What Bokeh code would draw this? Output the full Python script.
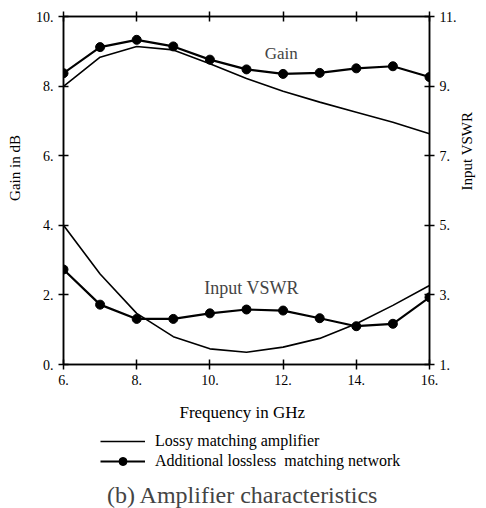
import math
from bokeh.plotting import figure
from bokeh.layouts import column
from bokeh.models import (Range1d, LinearAxis, FixedTicker, PrintfTickFormatter,
                          Label, Legend, LegendItem)
from bokeh.embed import file_html
from bokeh.resources import INLINE

# ---- data ----
freq = [6, 7, 8, 9, 10, 11, 12, 13, 14, 15, 16]
gain_lossy = [7.99, 8.83, 9.14, 9.04, 8.64, 8.22, 7.85, 7.54, 7.25, 6.96, 6.63]
gain_lossless = [8.37, 9.12, 9.33, 9.14, 8.76, 8.48, 8.35, 8.38, 8.51, 8.57, 8.26]
vswr_lossy = [5.0, 3.6, 2.47, 1.8, 1.45, 1.35, 1.5, 1.75, 2.17, 2.70, 3.27]
vswr_lossless = [3.73, 2.72, 2.31, 2.31, 2.47, 2.58, 2.55, 2.33, 2.10, 2.17, 2.93]

x_ticks = [6, 8, 10, 12, 14, 16]
gain_ticks = [0, 2, 4, 6, 8, 10]
vswr_ticks = [1, 3, 5, 7, 9, 11]

series_labels = ["Lossy matching amplifier", "Additional lossless  matching network"]
caption = "(b) Amplifier characteristics"

SERIF = "Liberation Serif"
NAN = float("nan")
NB = "\u00a0"

p = figure(width=486, height=425, output_backend="svg", toolbar_location=None,
           x_range=Range1d(6, 16), y_range=Range1d(0, 10),
           min_border_left=63, min_border_right=50, min_border_top=16,
           min_border_bottom=61, background_fill_color="white",
           border_fill_color="white", outline_line_color="black",
           outline_line_width=1.5)
p.extra_y_ranges = {"vswr": Range1d(1, 11)}
p.xgrid.visible = False
p.ygrid.visible = False

def style_axis(ax, ticks, labels=True):
    ax.ticker = FixedTicker(ticks=ticks)
    ax.formatter = PrintfTickFormatter(format="%d.")
    ax.major_tick_in = 5
    ax.major_tick_out = 5
    ax.minor_tick_line_color = None
    ax.axis_line_width = 1.5
    ax.major_tick_line_width = 1.5
    ax.major_label_text_font = SERIF
    ax.major_label_text_font_size = "14px"
    ax.major_label_text_color = "black"
    ax.axis_label_text_font = SERIF
    ax.axis_label_text_font_style = "normal"
    ax.axis_label_text_color = "black"
    if not labels:
        ax.major_label_text_font_size = "0px"
        ax.major_label_standoff = 0

style_axis(p.xaxis[0], x_ticks)
p.xaxis[0].axis_label = "Frequency  in  GHz"
p.xaxis[0].axis_label_text_font_size = "17px"
p.xaxis[0].axis_label_standoff = 15

style_axis(p.yaxis[0], gain_ticks)
# leading no-break spaces lift the visible label to where the reference has it
p.yaxis[0].axis_label = NB * 14 + "Gain  in  dB"
p.yaxis[0].axis_label_text_font_size = "15px"
p.yaxis[0].axis_label_standoff = 10

right = LinearAxis(y_range_name="vswr")
style_axis(right, vswr_ticks)
right.axis_label = "Input  VSWR"
right.axis_label_text_font_size = "15px"
right.axis_label_standoff = 8
try:
    right.axis_label_orientation = math.pi / 2
except Exception:
    pass
p.add_layout(right, "right")

top = LinearAxis()
style_axis(top, x_ticks, labels=False)
p.add_layout(top, "above")

# ---- series ----
p.line(freq, gain_lossy, line_color="black", line_width=1.6)
p.line(freq, gain_lossless, line_color="black", line_width=2.2)
p.scatter(freq, gain_lossless, size=9, color="black")
p.line(freq, vswr_lossy, line_color="black", line_width=1.6, y_range_name="vswr")
p.line(freq, vswr_lossless, line_color="black", line_width=2.2, y_range_name="vswr")
p.scatter(freq, vswr_lossless, size=9, color="black", y_range_name="vswr")

# ---- in-plot texts ----
p.add_layout(Label(x=11.95, y=8.94, text="Gain", text_font=SERIF,
                   text_font_size="17px", text_align="center", text_baseline="middle"))
p.add_layout(Label(x=11.2, y=2.2, text="Input  VSWR", text_font=SERIF,
                   text_font_size="18px", text_align="center", text_baseline="middle"))

# ---- legend + caption panel ----
q = figure(width=486, height=83, output_backend="svg", toolbar_location=None,
           x_range=Range1d(0, 1), y_range=Range1d(0, 1),
           min_border=0, outline_line_color=None,
           background_fill_color="white", border_fill_color="white")
q.axis.visible = False
q.grid.visible = False
k_l = q.line([NAN], [NAN], line_color="black", line_width=1.6)
k_n = q.line([NAN], [NAN], line_color="black", line_width=2.2)
k_c = q.scatter([NAN], [NAN], size=9, color="black")
legend = Legend(items=[
    LegendItem(label=series_labels[0], renderers=[k_l]),
    LegendItem(label=series_labels[1], renderers=[k_n, k_c]),
], location=(37, 37), orientation="vertical", border_line_color=None,
   background_fill_alpha=0, label_text_font=SERIF, label_text_font_size="16px",
   label_text_color="black",
   glyph_width=45, glyph_height=20, label_height=20, spacing=0, padding=0,
   label_standoff=10, margin=0)
q.add_layout(legend)
q.add_layout(Label(x=0.49, y=0.16, text=caption, text_font=SERIF,
                   text_font_size="24px", text_align="center", text_baseline="middle"))

open("out.html", "w").write(file_html(column(p, q, spacing=0), INLINE))
